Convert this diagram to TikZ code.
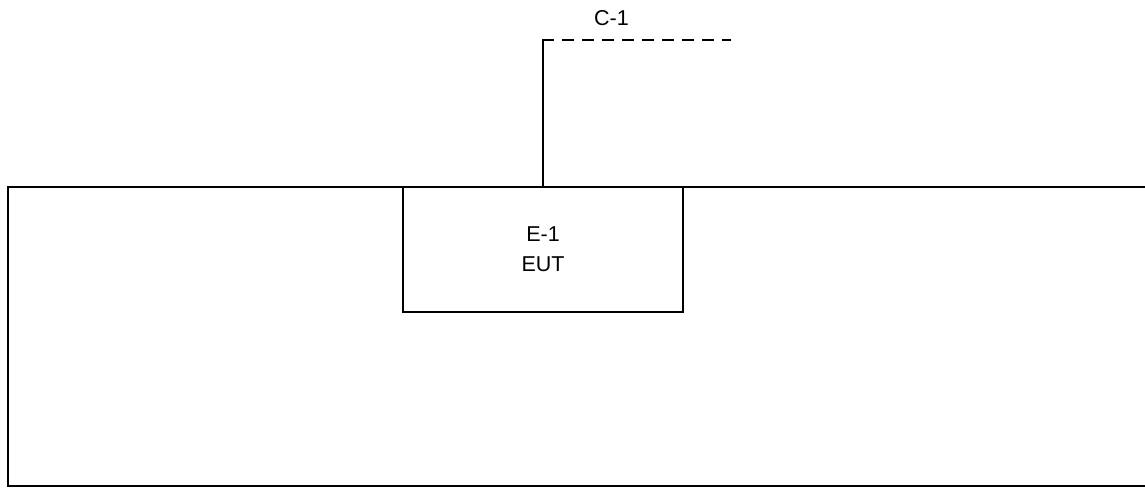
\documentclass[tikz,border=0pt]{standalone}
\usepackage{fontspec}
\setmainfont{Liberation Sans}
\begin{document}
\begin{tikzpicture}[x=1pt,y=-1pt,
  frame/.style={line width=1.8pt,black},
  eqbox/.style={draw=black,line width=1.3pt,minimum width=280pt,minimum height=125pt,
    inner sep=0pt,align=center,font=\fontsize{21.5}{30}\selectfont},
  lbl/.style={inner sep=0pt,font=\fontsize{21.5}{26}\selectfont},
  cable/.style={line width=1.3pt,black},
  cabledash/.style={line width=2.4pt,black,dash pattern=on 12pt off 8pt}]
\useasboundingbox (0,0) rectangle (1145,487);
\fill[white] (0,0) rectangle (1145,487);
% outer frame (right side runs off the page)
\draw[frame] (1160,187) -- (8,187) -- (8,486) -- (1160,486);
% EUT box
\node[eqbox] (E1) at (543,249.5) {E-1\\EUT};
% cable
\coordinate (bend) at (543,40);
\coordinate (cend) at (731,40);
\draw[cable] (E1.north) -- (bend);
\draw[cabledash] ([xshift=-0.65pt]bend) -- (cend);
\node[lbl] (C1) at (611.5,18) {C-1};
\end{tikzpicture}
\end{document}
